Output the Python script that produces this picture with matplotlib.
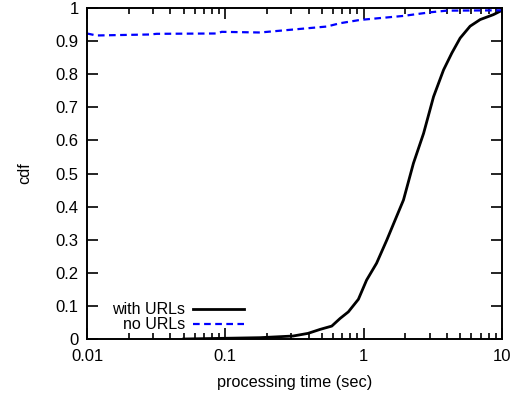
import matplotlib.pyplot as plt
from matplotlib.ticker import LogLocator, FixedLocator, NullFormatter

plt.rcParams['font.family'] = ['Liberation Sans', 'DejaVu Sans']

# with URLs (black solid)
t_urls = [0.05, 0.178, 0.309, 0.396, 0.484, 0.588, 0.675, 0.775, 0.916, 1.05,
          1.24, 1.47, 1.69, 1.94, 2.29, 2.71, 3.2, 3.78, 4.34, 4.98, 5.88,
          6.95, 8.67, 10.0]
cdf_urls = [0.0, 0.004, 0.009, 0.017, 0.029, 0.039, 0.062, 0.082, 0.12, 0.178,
            0.229, 0.299, 0.36, 0.42, 0.531, 0.621, 0.732, 0.813, 0.864, 0.909,
            0.945, 0.965, 0.98, 0.993]

# no URLs (blue dashed)
t_nourls = [0.01, 0.0117, 0.0285, 0.0319, 0.0867, 0.0942, 0.178, 0.541, 0.675,
            0.942, 1.93, 3.02, 3.99, 10.0]
cdf_nourls = [0.923, 0.917, 0.920, 0.922, 0.923, 0.928, 0.926, 0.944, 0.954,
              0.964, 0.976, 0.987, 0.992, 0.993]

xticks = [0.01, 0.1, 1, 10]
xlabels = ['0.01', '0.1', '1', '10']
yticks = [i / 10 for i in range(11)]
ylabels = ['0', '0.1', '0.2', '0.3', '0.4', '0.5', '0.6', '0.7', '0.8', '0.9', '1']

fig = plt.figure(figsize=(5.19, 3.97), dpi=100)
ax = fig.add_axes([87/519, 1-339/397, (502-87)/519, (339-8)/397])

ax.plot(t_urls, cdf_urls, color='black', lw=2, label='with URLs')
ax.plot(t_nourls, cdf_nourls, color='#0000ff', lw=1.6, dashes=(3, 2),
        label='no URLs')

ax.set_xscale('log')
ax.set_xlim(0.01, 10)
ax.set_ylim(0, 1)
ax.xaxis.set_major_locator(FixedLocator(xticks))
ax.set_xticklabels(xlabels)
ax.xaxis.set_minor_locator(LogLocator(base=10, subs=range(2, 10)))
ax.xaxis.set_minor_formatter(NullFormatter())
ax.set_yticks(yticks)
ax.set_yticklabels(ylabels)

ax.tick_params(which='major', direction='in', length=8, width=1.2,
               top=True, right=True, labelsize=12)
ax.tick_params(axis='y', pad=6)
ax.tick_params(axis='x', pad=7)
ax.tick_params(which='minor', direction='in', length=4, width=1.2,
               top=True, right=True)
for s in ax.spines.values():
    s.set_linewidth(1.4)

ax.set_xlabel('processing time (sec)', fontsize=11.7, labelpad=8)
ax.set_ylabel('cdf', fontsize=11.7, labelpad=17)

ax.legend(loc='lower left', bbox_to_anchor=(0.06, 0.02), frameon=False,
          markerfirst=False, fontsize=11.5, handlelength=3.2,
          handletextpad=0.5, labelspacing=0.0, borderpad=0,
          borderaxespad=0)

fig.savefig('out.png', dpi=100)
